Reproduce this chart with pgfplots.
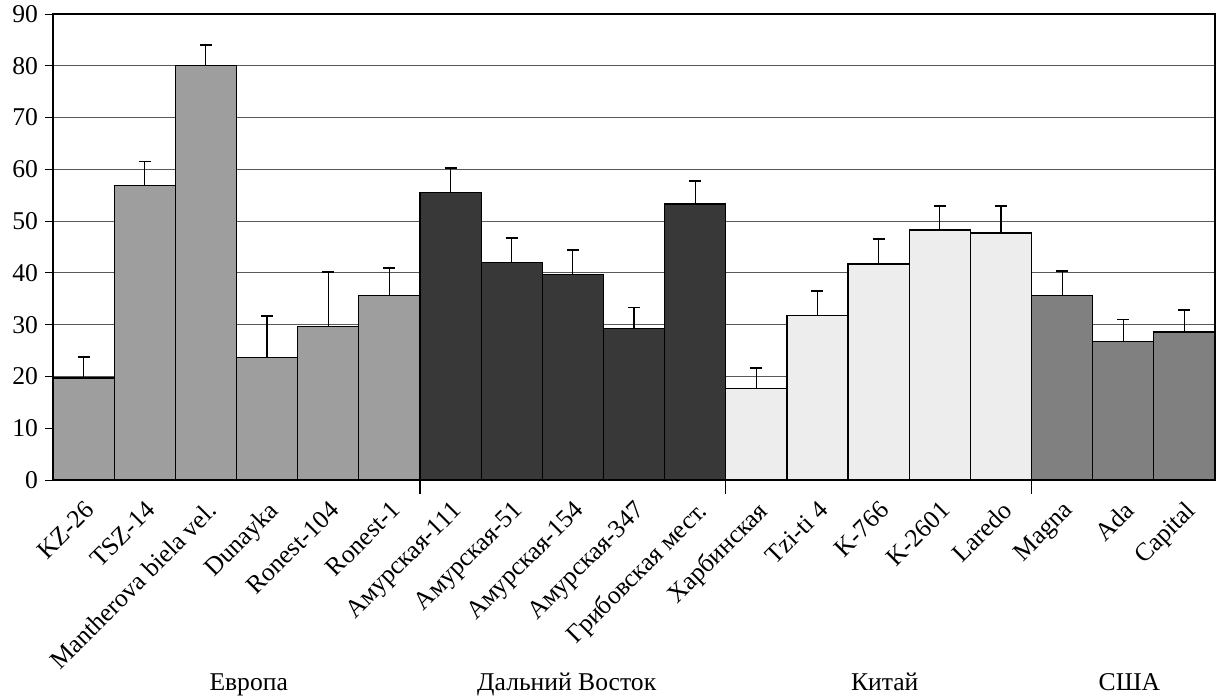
\documentclass[border=0pt]{standalone}
\usepackage{pgfplots}
\pgfplotsset{compat=1.18}
\usepackage{fontspec}
\setmainfont{Liberation Serif}
\definecolor{eur}{gray}{0.62}
\definecolor{fe}{gray}{0.22}
\definecolor{cn}{gray}{0.93}
\definecolor{us}{gray}{0.50}
\pgfplotsset{
  mybar/.style={ybar, bar width=1, bar shift=0pt, draw=black, line width=0.6pt,
    error bars/y dir=plus, error bars/y explicit,
    error bars/error bar style={black, line width=0.6pt},
    error bars/error mark options={black, rotate=90, mark size=3pt, line width=0.9pt}},
}
\begin{document}
\begin{tikzpicture}
\useasboundingbox (-26.5pt,-109pt) rectangle (581.5pt,240pt);
\begin{axis}[
  at={(0,0)}, anchor=south west,
  scale only axis, width=581pt, height=233pt,
  xmin=-0.5, xmax=18.5, ymin=0, ymax=90,
  ytick={0,10,...,90},
  ymajorgrids, grid style={black!65, line width=0.5pt},
  axis line style={black, line width=0.8pt},
  xtick={0,...,18},
  xticklabels={KZ-26, TSZ-14, Mantherova biela vel., Dunayka, Ronest-104, Ronest-1, Амурская-111, Амурская-51, Амурская-154, Амурская-347, Грибовская мест., Харбинская, Tzi-ti 4, K-766, K-2601, Laredo, Magna, Ada, Capital},
  x tick label style={rotate=45, anchor=north east, inner sep=1pt, xshift=-3pt, yshift=-3pt},
  xtick style={draw=none},
  tick align=outside, major tick length=4pt,
  ytick style={draw=black, line width=0.5pt},
  ticklabel style={font=\fontsize{12.8}{15}\selectfont},
  /pgf/number format/assume math mode=true,
  clip=false,
]
\addplot[mybar, fill=eur] table[x=x, y=y, y error=e] {
x y e
0 19.7 4.1
1 56.9 4.6
2 80.1 3.9
3 23.6 8.1
4 29.6 10.5
5 35.7 5.3
};
\addplot[mybar, fill=fe] table[x=x, y=y, y error=e] {
x y e
6 55.6 4.7
7 42.0 4.8
8 39.7 4.8
9 29.2 4.1
10 53.3 4.4
};
\addplot[mybar, fill=cn] table[x=x, y=y, y error=e] {
x y e
11 17.7 3.9
12 31.7 4.8
13 41.7 4.8
14 48.3 4.6
15 47.7 5.2
};
\addplot[mybar, fill=us] table[x=x, y=y, y error=e] {
x y e
16 35.6 4.7
17 26.7 4.3
18 28.6 4.2
};
\draw[black, line width=0.6pt] (axis cs:5.5,0) -- ([yshift=-7pt]axis cs:5.5,0);
\draw[black, line width=0.6pt] (axis cs:10.5,0) -- ([yshift=-7pt]axis cs:10.5,0);
\draw[black, line width=0.6pt] (axis cs:15.5,0) -- ([yshift=-7pt]axis cs:15.5,0);
\begin{scope}[every node/.style={font=\fontsize{12.8}{15}\selectfont, anchor=base, yshift=-105pt}]
\node at (axis cs:2.7,0) {Европа};
\node at (axis cs:7.9,0) {Дальний Восток};
\node at (axis cs:13.1,0) {Китай};
\node at (axis cs:17.1,0) {США};
\end{scope}
\end{axis}
\end{tikzpicture}
\end{document}
